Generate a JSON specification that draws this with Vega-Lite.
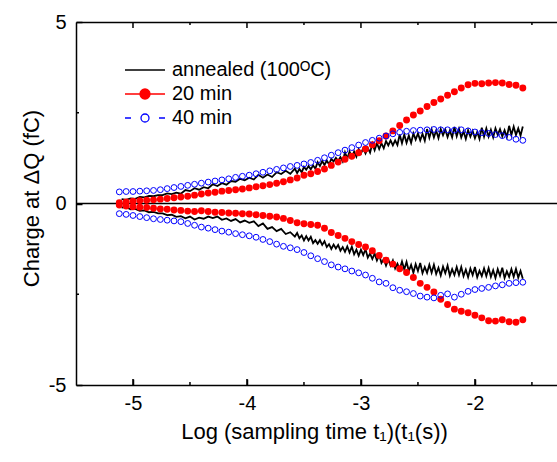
{
"$schema": "https://vega.github.io/schema/vega-lite/v6.json",
"width": 481, "height": 363,
"autosize": {"type": "none"},
"padding": {"left": 76, "top": 22, "right": 0, "bottom": 77},
"background": "white",
"config": {
 "font": "Liberation Sans",
 "view": {"stroke": null},
 "axis": {"grid": false, "ticks": true, "domainColor": "#000000", "tickColor": "#000000", "tickOpacity": 1, "labelColor": "#000000", "titleColor": "#000000", "labelFont": "Liberation Sans", "titleFont": "Liberation Sans", "labelFontSize": 20, "titleFontSize": 22, "titleFontWeight": "normal", "domainWidth": 1.5, "tickWidth": 1.5, "labelOverlap": false, "labelFlush": false}
},
"data": {"values": [
{"s":"annealed","b":"u","x":-5.10,"y":0.12},{"s":"annealed","b":"u","x":-5.06,"y":0.10},{"s":"annealed","b":"u","x":-5.02,"y":0.14},{"s":"annealed","b":"u","x":-4.98,"y":0.13},{"s":"annealed","b":"u","x":-4.94,"y":0.18},{"s":"annealed","b":"u","x":-4.90,"y":0.17},{"s":"annealed","b":"u","x":-4.86,"y":0.21},{"s":"annealed","b":"u","x":-4.82,"y":0.20},{"s":"annealed","b":"u","x":-4.78,"y":0.23},{"s":"annealed","b":"u","x":-4.74,"y":0.23},
{"s":"annealed","b":"u","x":-4.70,"y":0.28},{"s":"annealed","b":"u","x":-4.66,"y":0.26},{"s":"annealed","b":"u","x":-4.62,"y":0.30},{"s":"annealed","b":"u","x":-4.58,"y":0.27},{"s":"annealed","b":"u","x":-4.54,"y":0.37},{"s":"annealed","b":"u","x":-4.50,"y":0.34},{"s":"annealed","b":"u","x":-4.46,"y":0.42},{"s":"annealed","b":"u","x":-4.42,"y":0.38},{"s":"annealed","b":"u","x":-4.38,"y":0.45},{"s":"annealed","b":"u","x":-4.34,"y":0.42},
{"s":"annealed","b":"u","x":-4.30,"y":0.53},{"s":"annealed","b":"u","x":-4.26,"y":0.48},{"s":"annealed","b":"u","x":-4.22,"y":0.56},{"s":"annealed","b":"u","x":-4.18,"y":0.52},{"s":"annealed","b":"u","x":-4.14,"y":0.62},{"s":"annealed","b":"u","x":-4.10,"y":0.60},{"s":"annealed","b":"u","x":-4.06,"y":0.68},{"s":"annealed","b":"u","x":-4.02,"y":0.64},{"s":"annealed","b":"u","x":-3.98,"y":0.71},{"s":"annealed","b":"u","x":-3.94,"y":0.66},
{"s":"annealed","b":"u","x":-3.90,"y":0.79},{"s":"annealed","b":"u","x":-3.86,"y":0.71},{"s":"annealed","b":"u","x":-3.82,"y":0.80},{"s":"annealed","b":"u","x":-3.78,"y":0.73},{"s":"annealed","b":"u","x":-3.74,"y":0.86},{"s":"annealed","b":"u","x":-3.70,"y":0.81},{"s":"annealed","b":"u","x":-3.66,"y":0.90},{"s":"annealed","b":"u","x":-3.62,"y":0.82},
{"s":"annealed","b":"u","x":-3.58,"y":0.96},{"s":"annealed","b":"u","x":-3.56,"y":0.84},{"s":"annealed","b":"u","x":-3.54,"y":0.95},{"s":"annealed","b":"u","x":-3.52,"y":0.86},{"s":"annealed","b":"u","x":-3.50,"y":1.01},{"s":"annealed","b":"u","x":-3.48,"y":0.93},{"s":"annealed","b":"u","x":-3.46,"y":1.03},{"s":"annealed","b":"u","x":-3.44,"y":0.94},{"s":"annealed","b":"u","x":-3.42,"y":1.05},{"s":"annealed","b":"u","x":-3.40,"y":0.96},
{"s":"annealed","b":"u","x":-3.38,"y":1.14},{"s":"annealed","b":"u","x":-3.36,"y":1.03},{"s":"annealed","b":"u","x":-3.34,"y":1.17},{"s":"annealed","b":"u","x":-3.32,"y":1.06},{"s":"annealed","b":"u","x":-3.30,"y":1.18},{"s":"annealed","b":"u","x":-3.28,"y":1.08},{"s":"annealed","b":"u","x":-3.26,"y":1.23},{"s":"annealed","b":"u","x":-3.24,"y":1.16},{"s":"annealed","b":"u","x":-3.22,"y":1.26},{"s":"annealed","b":"u","x":-3.20,"y":1.17},
{"s":"annealed","b":"u","x":-3.18,"y":1.28},{"s":"annealed","b":"u","x":-3.16,"y":1.16},{"s":"annealed","b":"u","x":-3.14,"y":1.41},{"s":"annealed","b":"u","x":-3.12,"y":1.24},{"s":"annealed","b":"u","x":-3.10,"y":1.43},{"s":"annealed","b":"u","x":-3.08,"y":1.27},{"s":"annealed","b":"u","x":-3.06,"y":1.43},{"s":"annealed","b":"u","x":-3.04,"y":1.29},{"s":"annealed","b":"u","x":-3.02,"y":1.50},{"s":"annealed","b":"u","x":-3.00,"y":1.38},
{"s":"annealed","b":"u","x":-2.98,"y":1.52},{"s":"annealed","b":"u","x":-2.96,"y":1.38},{"s":"annealed","b":"u","x":-2.94,"y":1.53},{"s":"annealed","b":"u","x":-2.92,"y":1.40},{"s":"annealed","b":"u","x":-2.90,"y":1.65},{"s":"annealed","b":"u","x":-2.88,"y":1.47},{"s":"annealed","b":"u","x":-2.86,"y":1.66},{"s":"annealed","b":"u","x":-2.84,"y":1.50},{"s":"annealed","b":"u","x":-2.82,"y":1.66},{"s":"annealed","b":"u","x":-2.80,"y":1.52},
{"s":"annealed","b":"u","x":-2.78,"y":1.72},{"s":"annealed","b":"u","x":-2.76,"y":1.60},{"s":"annealed","b":"u","x":-2.74,"y":1.74},{"s":"annealed","b":"u","x":-2.72,"y":1.60},{"s":"annealed","b":"u","x":-2.70,"y":1.74},{"s":"annealed","b":"u","x":-2.68,"y":1.61},{"s":"annealed","b":"u","x":-2.66,"y":1.90},{"s":"annealed","b":"u","x":-2.64,"y":1.66},{"s":"annealed","b":"u","x":-2.62,"y":1.90},{"s":"annealed","b":"u","x":-2.60,"y":1.67},
{"s":"annealed","b":"u","x":-2.58,"y":1.87},{"s":"annealed","b":"u","x":-2.56,"y":1.67},{"s":"annealed","b":"u","x":-2.54,"y":1.93},{"s":"annealed","b":"u","x":-2.52,"y":1.76},{"s":"annealed","b":"u","x":-2.50,"y":1.93},{"s":"annealed","b":"u","x":-2.48,"y":1.74},{"s":"annealed","b":"u","x":-2.46,"y":1.92},{"s":"annealed","b":"u","x":-2.44,"y":1.73},{"s":"annealed","b":"u","x":-2.42,"y":2.05},{"s":"annealed","b":"u","x":-2.40,"y":1.81},
{"s":"annealed","b":"u","x":-2.38,"y":2.04},{"s":"annealed","b":"u","x":-2.36,"y":1.82},{"s":"annealed","b":"u","x":-2.34,"y":2.01},{"s":"annealed","b":"u","x":-2.32,"y":1.80},{"s":"annealed","b":"u","x":-2.30,"y":2.05},{"s":"annealed","b":"u","x":-2.28,"y":1.88},{"s":"annealed","b":"u","x":-2.26,"y":2.04},{"s":"annealed","b":"u","x":-2.24,"y":1.83},{"s":"annealed","b":"u","x":-2.22,"y":2.01},{"s":"annealed","b":"u","x":-2.20,"y":1.82},
{"s":"annealed","b":"u","x":-2.18,"y":2.11},{"s":"annealed","b":"u","x":-2.16,"y":1.85},{"s":"annealed","b":"u","x":-2.14,"y":2.06},{"s":"annealed","b":"u","x":-2.12,"y":1.82},{"s":"annealed","b":"u","x":-2.10,"y":1.99},{"s":"annealed","b":"u","x":-2.08,"y":1.78},{"s":"annealed","b":"u","x":-2.06,"y":2.02},{"s":"annealed","b":"u","x":-2.04,"y":1.84},{"s":"annealed","b":"u","x":-2.02,"y":2.00},{"s":"annealed","b":"u","x":-2.00,"y":1.80},
{"s":"annealed","b":"u","x":-1.98,"y":1.97},{"s":"annealed","b":"u","x":-1.96,"y":1.78},{"s":"annealed","b":"u","x":-1.94,"y":2.09},{"s":"annealed","b":"u","x":-1.92,"y":1.84},{"s":"annealed","b":"u","x":-1.90,"y":2.07},{"s":"annealed","b":"u","x":-1.88,"y":1.84},{"s":"annealed","b":"u","x":-1.86,"y":2.03},{"s":"annealed","b":"u","x":-1.84,"y":1.82},{"s":"annealed","b":"u","x":-1.82,"y":2.07},{"s":"annealed","b":"u","x":-1.80,"y":1.89},
{"s":"annealed","b":"u","x":-1.78,"y":2.05},{"s":"annealed","b":"u","x":-1.76,"y":1.85},{"s":"annealed","b":"u","x":-1.74,"y":2.02},{"s":"annealed","b":"u","x":-1.72,"y":1.83},{"s":"annealed","b":"u","x":-1.70,"y":2.14},{"s":"annealed","b":"u","x":-1.68,"y":1.89},{"s":"annealed","b":"u","x":-1.66,"y":2.12},{"s":"annealed","b":"u","x":-1.64,"y":1.89},{"s":"annealed","b":"u","x":-1.62,"y":2.07},{"s":"annealed","b":"u","x":-1.60,"y":1.87},
{"s":"annealed","b":"u","x":-1.58,"y":2.12},
{"s":"annealed","b":"l","x":-5.10,"y":-0.11},{"s":"annealed","b":"l","x":-5.06,"y":-0.10},{"s":"annealed","b":"l","x":-5.02,"y":-0.16},{"s":"annealed","b":"l","x":-4.98,"y":-0.15},{"s":"annealed","b":"l","x":-4.94,"y":-0.20},{"s":"annealed","b":"l","x":-4.90,"y":-0.19},{"s":"annealed","b":"l","x":-4.86,"y":-0.24},{"s":"annealed","b":"l","x":-4.82,"y":-0.23},{"s":"annealed","b":"l","x":-4.78,"y":-0.27},{"s":"annealed","b":"l","x":-4.74,"y":-0.27},
{"s":"annealed","b":"l","x":-4.70,"y":-0.32},{"s":"annealed","b":"l","x":-4.66,"y":-0.31},{"s":"annealed","b":"l","x":-4.62,"y":-0.37},{"s":"annealed","b":"l","x":-4.58,"y":-0.35},{"s":"annealed","b":"l","x":-4.54,"y":-0.41},{"s":"annealed","b":"l","x":-4.50,"y":-0.36},{"s":"annealed","b":"l","x":-4.46,"y":-0.44},{"s":"annealed","b":"l","x":-4.42,"y":-0.39},{"s":"annealed","b":"l","x":-4.38,"y":-0.42},{"s":"annealed","b":"l","x":-4.34,"y":-0.36},
{"s":"annealed","b":"l","x":-4.30,"y":-0.40},{"s":"annealed","b":"l","x":-4.26,"y":-0.36},{"s":"annealed","b":"l","x":-4.22,"y":-0.45},{"s":"annealed","b":"l","x":-4.18,"y":-0.41},{"s":"annealed","b":"l","x":-4.14,"y":-0.48},{"s":"annealed","b":"l","x":-4.10,"y":-0.43},{"s":"annealed","b":"l","x":-4.06,"y":-0.52},{"s":"annealed","b":"l","x":-4.02,"y":-0.47},{"s":"annealed","b":"l","x":-3.98,"y":-0.53},{"s":"annealed","b":"l","x":-3.94,"y":-0.49},
{"s":"annealed","b":"l","x":-3.90,"y":-0.62},{"s":"annealed","b":"l","x":-3.86,"y":-0.55},{"s":"annealed","b":"l","x":-3.82,"y":-0.70},{"s":"annealed","b":"l","x":-3.78,"y":-0.65},{"s":"annealed","b":"l","x":-3.74,"y":-0.76},{"s":"annealed","b":"l","x":-3.70,"y":-0.70},{"s":"annealed","b":"l","x":-3.66,"y":-0.84},{"s":"annealed","b":"l","x":-3.62,"y":-0.79},
{"s":"annealed","b":"l","x":-3.58,"y":-0.91},{"s":"annealed","b":"l","x":-3.56,"y":-0.81},{"s":"annealed","b":"l","x":-3.54,"y":-0.96},{"s":"annealed","b":"l","x":-3.52,"y":-0.88},{"s":"annealed","b":"l","x":-3.50,"y":-1.02},{"s":"annealed","b":"l","x":-3.48,"y":-0.90},{"s":"annealed","b":"l","x":-3.46,"y":-1.02},{"s":"annealed","b":"l","x":-3.44,"y":-0.92},{"s":"annealed","b":"l","x":-3.42,"y":-1.09},{"s":"annealed","b":"l","x":-3.40,"y":-1.01},
{"s":"annealed","b":"l","x":-3.38,"y":-1.11},{"s":"annealed","b":"l","x":-3.36,"y":-1.01},{"s":"annealed","b":"l","x":-3.34,"y":-1.14},{"s":"annealed","b":"l","x":-3.32,"y":-1.04},{"s":"annealed","b":"l","x":-3.30,"y":-1.20},{"s":"annealed","b":"l","x":-3.28,"y":-1.12},{"s":"annealed","b":"l","x":-3.26,"y":-1.25},{"s":"annealed","b":"l","x":-3.24,"y":-1.13},{"s":"annealed","b":"l","x":-3.22,"y":-1.24},{"s":"annealed","b":"l","x":-3.20,"y":-1.14},
{"s":"annealed","b":"l","x":-3.18,"y":-1.30},{"s":"annealed","b":"l","x":-3.16,"y":-1.20},{"s":"annealed","b":"l","x":-3.14,"y":-1.33},{"s":"annealed","b":"l","x":-3.12,"y":-1.18},{"s":"annealed","b":"l","x":-3.10,"y":-1.35},{"s":"annealed","b":"l","x":-3.08,"y":-1.19},{"s":"annealed","b":"l","x":-3.06,"y":-1.40},{"s":"annealed","b":"l","x":-3.04,"y":-1.27},{"s":"annealed","b":"l","x":-3.02,"y":-1.44},{"s":"annealed","b":"l","x":-3.00,"y":-1.27},
{"s":"annealed","b":"l","x":-2.98,"y":-1.42},{"s":"annealed","b":"l","x":-2.96,"y":-1.26},{"s":"annealed","b":"l","x":-2.94,"y":-1.49},{"s":"annealed","b":"l","x":-2.92,"y":-1.38},{"s":"annealed","b":"l","x":-2.90,"y":-1.53},{"s":"annealed","b":"l","x":-2.88,"y":-1.38},{"s":"annealed","b":"l","x":-2.86,"y":-1.57},{"s":"annealed","b":"l","x":-2.84,"y":-1.42},{"s":"annealed","b":"l","x":-2.82,"y":-1.64},{"s":"annealed","b":"l","x":-2.80,"y":-1.53},
{"s":"annealed","b":"l","x":-2.78,"y":-1.71},{"s":"annealed","b":"l","x":-2.76,"y":-1.55},{"s":"annealed","b":"l","x":-2.74,"y":-1.71},{"s":"annealed","b":"l","x":-2.72,"y":-1.57},{"s":"annealed","b":"l","x":-2.70,"y":-1.79},{"s":"annealed","b":"l","x":-2.68,"y":-1.66},{"s":"annealed","b":"l","x":-2.66,"y":-1.81},{"s":"annealed","b":"l","x":-2.64,"y":-1.60},{"s":"annealed","b":"l","x":-2.62,"y":-1.82},{"s":"annealed","b":"l","x":-2.60,"y":-1.61},
{"s":"annealed","b":"l","x":-2.58,"y":-1.86},{"s":"annealed","b":"l","x":-2.56,"y":-1.69},{"s":"annealed","b":"l","x":-2.54,"y":-1.91},{"s":"annealed","b":"l","x":-2.52,"y":-1.67},{"s":"annealed","b":"l","x":-2.50,"y":-1.86},{"s":"annealed","b":"l","x":-2.48,"y":-1.64},{"s":"annealed","b":"l","x":-2.46,"y":-1.92},{"s":"annealed","b":"l","x":-2.44,"y":-1.75},{"s":"annealed","b":"l","x":-2.42,"y":-1.91},{"s":"annealed","b":"l","x":-2.40,"y":-1.69},
{"s":"annealed","b":"l","x":-2.38,"y":-1.91},{"s":"annealed","b":"l","x":-2.36,"y":-1.69},{"s":"annealed","b":"l","x":-2.34,"y":-1.94},{"s":"annealed","b":"l","x":-2.32,"y":-1.77},{"s":"annealed","b":"l","x":-2.30,"y":-1.98},{"s":"annealed","b":"l","x":-2.28,"y":-1.74},{"s":"annealed","b":"l","x":-2.26,"y":-1.92},{"s":"annealed","b":"l","x":-2.24,"y":-1.71},{"s":"annealed","b":"l","x":-2.22,"y":-1.99},{"s":"annealed","b":"l","x":-2.20,"y":-1.81},
{"s":"annealed","b":"l","x":-2.18,"y":-1.97},{"s":"annealed","b":"l","x":-2.16,"y":-1.75},{"s":"annealed","b":"l","x":-2.14,"y":-1.97},{"s":"annealed","b":"l","x":-2.12,"y":-1.75},{"s":"annealed","b":"l","x":-2.10,"y":-2.00},{"s":"annealed","b":"l","x":-2.08,"y":-1.82},{"s":"annealed","b":"l","x":-2.06,"y":-2.03},{"s":"annealed","b":"l","x":-2.04,"y":-1.79},{"s":"annealed","b":"l","x":-2.02,"y":-1.97},{"s":"annealed","b":"l","x":-2.00,"y":-1.75},
{"s":"annealed","b":"l","x":-1.98,"y":-2.03},{"s":"annealed","b":"l","x":-1.96,"y":-1.85},{"s":"annealed","b":"l","x":-1.94,"y":-2.00},{"s":"annealed","b":"l","x":-1.92,"y":-1.79},{"s":"annealed","b":"l","x":-1.90,"y":-2.00},{"s":"annealed","b":"l","x":-1.88,"y":-1.78},{"s":"annealed","b":"l","x":-1.86,"y":-2.02},{"s":"annealed","b":"l","x":-1.84,"y":-1.84},{"s":"annealed","b":"l","x":-1.82,"y":-2.05},{"s":"annealed","b":"l","x":-1.80,"y":-1.81},
{"s":"annealed","b":"l","x":-1.78,"y":-1.99},{"s":"annealed","b":"l","x":-1.76,"y":-1.77},{"s":"annealed","b":"l","x":-1.74,"y":-2.05},{"s":"annealed","b":"l","x":-1.72,"y":-1.87},{"s":"annealed","b":"l","x":-1.70,"y":-2.02},{"s":"annealed","b":"l","x":-1.68,"y":-1.81},{"s":"annealed","b":"l","x":-1.66,"y":-2.02},{"s":"annealed","b":"l","x":-1.64,"y":-1.80},{"s":"annealed","b":"l","x":-1.62,"y":-2.04},{"s":"annealed","b":"l","x":-1.60,"y":-1.86},
{"s":"annealed","b":"l","x":-1.58,"y":-2.07},
{"s":"20 min","b":"u","x":-5.12,"y":0.02},{"s":"20 min","b":"u","x":-5.06,"y":0.04},{"s":"20 min","b":"u","x":-5.00,"y":0.06},{"s":"20 min","b":"u","x":-4.94,"y":0.08},{"s":"20 min","b":"u","x":-4.88,"y":0.09},{"s":"20 min","b":"u","x":-4.82,"y":0.10},{"s":"20 min","b":"u","x":-4.76,"y":0.12},{"s":"20 min","b":"u","x":-4.70,"y":0.14},{"s":"20 min","b":"u","x":-4.64,"y":0.16},{"s":"20 min","b":"u","x":-4.58,"y":0.18},
{"s":"20 min","b":"u","x":-4.52,"y":0.20},{"s":"20 min","b":"u","x":-4.46,"y":0.23},{"s":"20 min","b":"u","x":-4.40,"y":0.26},{"s":"20 min","b":"u","x":-4.34,"y":0.29},{"s":"20 min","b":"u","x":-4.28,"y":0.31},{"s":"20 min","b":"u","x":-4.22,"y":0.34},{"s":"20 min","b":"u","x":-4.16,"y":0.36},{"s":"20 min","b":"u","x":-4.10,"y":0.38},{"s":"20 min","b":"u","x":-4.04,"y":0.40},{"s":"20 min","b":"u","x":-3.98,"y":0.43},
{"s":"20 min","b":"u","x":-3.92,"y":0.46},{"s":"20 min","b":"u","x":-3.86,"y":0.49},{"s":"20 min","b":"u","x":-3.80,"y":0.52},{"s":"20 min","b":"u","x":-3.74,"y":0.56},{"s":"20 min","b":"u","x":-3.68,"y":0.60},{"s":"20 min","b":"u","x":-3.62,"y":0.65},{"s":"20 min","b":"u","x":-3.56,"y":0.70},{"s":"20 min","b":"u","x":-3.50,"y":0.78},{"s":"20 min","b":"u","x":-3.44,"y":0.82},{"s":"20 min","b":"u","x":-3.38,"y":0.88},
{"s":"20 min","b":"u","x":-3.32,"y":0.95},{"s":"20 min","b":"u","x":-3.26,"y":1.05},{"s":"20 min","b":"u","x":-3.20,"y":1.14},{"s":"20 min","b":"u","x":-3.14,"y":1.22},{"s":"20 min","b":"u","x":-3.08,"y":1.30},{"s":"20 min","b":"u","x":-3.02,"y":1.40},{"s":"20 min","b":"u","x":-2.96,"y":1.50},{"s":"20 min","b":"u","x":-2.90,"y":1.62},{"s":"20 min","b":"u","x":-2.84,"y":1.73},{"s":"20 min","b":"u","x":-2.78,"y":1.86},
{"s":"20 min","b":"u","x":-2.72,"y":2.00},{"s":"20 min","b":"u","x":-2.66,"y":2.15},{"s":"20 min","b":"u","x":-2.60,"y":2.30},{"s":"20 min","b":"u","x":-2.54,"y":2.44},{"s":"20 min","b":"u","x":-2.48,"y":2.55},{"s":"20 min","b":"u","x":-2.42,"y":2.67},{"s":"20 min","b":"u","x":-2.36,"y":2.78},{"s":"20 min","b":"u","x":-2.30,"y":2.88},{"s":"20 min","b":"u","x":-2.24,"y":2.98},{"s":"20 min","b":"u","x":-2.18,"y":3.08},
{"s":"20 min","b":"u","x":-2.12,"y":3.18},{"s":"20 min","b":"u","x":-2.06,"y":3.27},{"s":"20 min","b":"u","x":-2.00,"y":3.31},{"s":"20 min","b":"u","x":-1.94,"y":3.30},{"s":"20 min","b":"u","x":-1.88,"y":3.32},{"s":"20 min","b":"u","x":-1.82,"y":3.33},{"s":"20 min","b":"u","x":-1.76,"y":3.32},{"s":"20 min","b":"u","x":-1.70,"y":3.28},{"s":"20 min","b":"u","x":-1.64,"y":3.26},{"s":"20 min","b":"u","x":-1.58,"y":3.18},
{"s":"20 min","b":"l","x":-5.12,"y":-0.04},{"s":"20 min","b":"l","x":-5.06,"y":-0.07},{"s":"20 min","b":"l","x":-5.00,"y":-0.09},{"s":"20 min","b":"l","x":-4.94,"y":-0.10},{"s":"20 min","b":"l","x":-4.88,"y":-0.11},{"s":"20 min","b":"l","x":-4.82,"y":-0.13},{"s":"20 min","b":"l","x":-4.76,"y":-0.15},{"s":"20 min","b":"l","x":-4.70,"y":-0.16},{"s":"20 min","b":"l","x":-4.64,"y":-0.18},{"s":"20 min","b":"l","x":-4.58,"y":-0.19},
{"s":"20 min","b":"l","x":-4.52,"y":-0.21},{"s":"20 min","b":"l","x":-4.46,"y":-0.22},{"s":"20 min","b":"l","x":-4.40,"y":-0.20},{"s":"20 min","b":"l","x":-4.34,"y":-0.22},{"s":"20 min","b":"l","x":-4.28,"y":-0.24},{"s":"20 min","b":"l","x":-4.22,"y":-0.25},{"s":"20 min","b":"l","x":-4.16,"y":-0.26},{"s":"20 min","b":"l","x":-4.10,"y":-0.27},{"s":"20 min","b":"l","x":-4.04,"y":-0.28},{"s":"20 min","b":"l","x":-3.98,"y":-0.29},
{"s":"20 min","b":"l","x":-3.92,"y":-0.31},{"s":"20 min","b":"l","x":-3.86,"y":-0.33},{"s":"20 min","b":"l","x":-3.80,"y":-0.35},{"s":"20 min","b":"l","x":-3.74,"y":-0.37},{"s":"20 min","b":"l","x":-3.68,"y":-0.41},{"s":"20 min","b":"l","x":-3.62,"y":-0.47},{"s":"20 min","b":"l","x":-3.56,"y":-0.53},{"s":"20 min","b":"l","x":-3.50,"y":-0.56},{"s":"20 min","b":"l","x":-3.44,"y":-0.58},{"s":"20 min","b":"l","x":-3.38,"y":-0.60},
{"s":"20 min","b":"l","x":-3.32,"y":-0.68},{"s":"20 min","b":"l","x":-3.26,"y":-0.80},{"s":"20 min","b":"l","x":-3.20,"y":-0.88},{"s":"20 min","b":"l","x":-3.14,"y":-0.96},{"s":"20 min","b":"l","x":-3.08,"y":-1.05},{"s":"20 min","b":"l","x":-3.02,"y":-1.13},{"s":"20 min","b":"l","x":-2.96,"y":-1.20},{"s":"20 min","b":"l","x":-2.90,"y":-1.30},{"s":"20 min","b":"l","x":-2.84,"y":-1.43},{"s":"20 min","b":"l","x":-2.78,"y":-1.56},
{"s":"20 min","b":"l","x":-2.72,"y":-1.67},{"s":"20 min","b":"l","x":-2.66,"y":-1.80},{"s":"20 min","b":"l","x":-2.60,"y":-1.90},{"s":"20 min","b":"l","x":-2.54,"y":-2.04},{"s":"20 min","b":"l","x":-2.48,"y":-2.20},{"s":"20 min","b":"l","x":-2.42,"y":-2.31},{"s":"20 min","b":"l","x":-2.36,"y":-2.44},{"s":"20 min","b":"l","x":-2.30,"y":-2.64},{"s":"20 min","b":"l","x":-2.24,"y":-2.78},{"s":"20 min","b":"l","x":-2.18,"y":-2.91},
{"s":"20 min","b":"l","x":-2.12,"y":-2.97},{"s":"20 min","b":"l","x":-2.06,"y":-3.01},{"s":"20 min","b":"l","x":-2.00,"y":-3.08},{"s":"20 min","b":"l","x":-1.94,"y":-3.15},{"s":"20 min","b":"l","x":-1.88,"y":-3.23},{"s":"20 min","b":"l","x":-1.82,"y":-3.24},{"s":"20 min","b":"l","x":-1.76,"y":-3.20},{"s":"20 min","b":"l","x":-1.70,"y":-3.26},{"s":"20 min","b":"l","x":-1.64,"y":-3.27},{"s":"20 min","b":"l","x":-1.58,"y":-3.20},
{"s":"40 min","b":"u","x":-5.12,"y":0.32},{"s":"40 min","b":"u","x":-5.06,"y":0.33},{"s":"40 min","b":"u","x":-5.00,"y":0.33},{"s":"40 min","b":"u","x":-4.94,"y":0.34},{"s":"40 min","b":"u","x":-4.88,"y":0.35},{"s":"40 min","b":"u","x":-4.82,"y":0.36},{"s":"40 min","b":"u","x":-4.76,"y":0.38},{"s":"40 min","b":"u","x":-4.70,"y":0.41},{"s":"40 min","b":"u","x":-4.64,"y":0.44},{"s":"40 min","b":"u","x":-4.58,"y":0.47},
{"s":"40 min","b":"u","x":-4.52,"y":0.50},{"s":"40 min","b":"u","x":-4.46,"y":0.53},{"s":"40 min","b":"u","x":-4.40,"y":0.56},{"s":"40 min","b":"u","x":-4.34,"y":0.59},{"s":"40 min","b":"u","x":-4.28,"y":0.62},{"s":"40 min","b":"u","x":-4.22,"y":0.65},{"s":"40 min","b":"u","x":-4.16,"y":0.68},{"s":"40 min","b":"u","x":-4.10,"y":0.72},{"s":"40 min","b":"u","x":-4.04,"y":0.75},{"s":"40 min","b":"u","x":-3.98,"y":0.78},
{"s":"40 min","b":"u","x":-3.92,"y":0.82},{"s":"40 min","b":"u","x":-3.86,"y":0.86},{"s":"40 min","b":"u","x":-3.80,"y":0.90},{"s":"40 min","b":"u","x":-3.74,"y":0.94},{"s":"40 min","b":"u","x":-3.68,"y":0.98},{"s":"40 min","b":"u","x":-3.62,"y":1.02},{"s":"40 min","b":"u","x":-3.56,"y":1.05},{"s":"40 min","b":"u","x":-3.50,"y":1.09},{"s":"40 min","b":"u","x":-3.44,"y":1.13},{"s":"40 min","b":"u","x":-3.38,"y":1.19},
{"s":"40 min","b":"u","x":-3.32,"y":1.26},{"s":"40 min","b":"u","x":-3.26,"y":1.33},{"s":"40 min","b":"u","x":-3.20,"y":1.40},{"s":"40 min","b":"u","x":-3.14,"y":1.47},{"s":"40 min","b":"u","x":-3.08,"y":1.54},{"s":"40 min","b":"u","x":-3.02,"y":1.61},{"s":"40 min","b":"u","x":-2.96,"y":1.68},{"s":"40 min","b":"u","x":-2.90,"y":1.74},{"s":"40 min","b":"u","x":-2.84,"y":1.80},{"s":"40 min","b":"u","x":-2.78,"y":1.86},
{"s":"40 min","b":"u","x":-2.72,"y":1.92},{"s":"40 min","b":"u","x":-2.66,"y":1.96},{"s":"40 min","b":"u","x":-2.60,"y":1.99},{"s":"40 min","b":"u","x":-2.54,"y":2.01},{"s":"40 min","b":"u","x":-2.48,"y":2.02},{"s":"40 min","b":"u","x":-2.42,"y":2.03},{"s":"40 min","b":"u","x":-2.36,"y":2.04},{"s":"40 min","b":"u","x":-2.30,"y":2.03},{"s":"40 min","b":"u","x":-2.24,"y":2.03},{"s":"40 min","b":"u","x":-2.18,"y":2.02},
{"s":"40 min","b":"u","x":-2.12,"y":2.03},{"s":"40 min","b":"u","x":-2.06,"y":2.00},{"s":"40 min","b":"u","x":-2.00,"y":1.97},{"s":"40 min","b":"u","x":-1.94,"y":1.95},{"s":"40 min","b":"u","x":-1.88,"y":1.93},{"s":"40 min","b":"u","x":-1.82,"y":1.90},{"s":"40 min","b":"u","x":-1.76,"y":1.87},{"s":"40 min","b":"u","x":-1.70,"y":1.82},{"s":"40 min","b":"u","x":-1.64,"y":1.77},{"s":"40 min","b":"u","x":-1.58,"y":1.74},
{"s":"40 min","b":"l","x":-5.12,"y":-0.28},{"s":"40 min","b":"l","x":-5.06,"y":-0.30},{"s":"40 min","b":"l","x":-5.00,"y":-0.33},{"s":"40 min","b":"l","x":-4.94,"y":-0.36},{"s":"40 min","b":"l","x":-4.88,"y":-0.39},{"s":"40 min","b":"l","x":-4.82,"y":-0.42},{"s":"40 min","b":"l","x":-4.76,"y":-0.44},{"s":"40 min","b":"l","x":-4.70,"y":-0.46},{"s":"40 min","b":"l","x":-4.64,"y":-0.48},{"s":"40 min","b":"l","x":-4.58,"y":-0.50},
{"s":"40 min","b":"l","x":-4.52,"y":-0.55},{"s":"40 min","b":"l","x":-4.46,"y":-0.60},{"s":"40 min","b":"l","x":-4.40,"y":-0.65},{"s":"40 min","b":"l","x":-4.34,"y":-0.68},{"s":"40 min","b":"l","x":-4.28,"y":-0.72},{"s":"40 min","b":"l","x":-4.22,"y":-0.76},{"s":"40 min","b":"l","x":-4.16,"y":-0.79},{"s":"40 min","b":"l","x":-4.10,"y":-0.83},{"s":"40 min","b":"l","x":-4.04,"y":-0.86},{"s":"40 min","b":"l","x":-3.98,"y":-0.89},
{"s":"40 min","b":"l","x":-3.92,"y":-0.93},{"s":"40 min","b":"l","x":-3.86,"y":-0.99},{"s":"40 min","b":"l","x":-3.80,"y":-1.05},{"s":"40 min","b":"l","x":-3.74,"y":-1.12},{"s":"40 min","b":"l","x":-3.68,"y":-1.18},{"s":"40 min","b":"l","x":-3.62,"y":-1.22},{"s":"40 min","b":"l","x":-3.56,"y":-1.27},{"s":"40 min","b":"l","x":-3.50,"y":-1.35},{"s":"40 min","b":"l","x":-3.44,"y":-1.44},{"s":"40 min","b":"l","x":-3.38,"y":-1.52},
{"s":"40 min","b":"l","x":-3.32,"y":-1.60},{"s":"40 min","b":"l","x":-3.26,"y":-1.69},{"s":"40 min","b":"l","x":-3.20,"y":-1.75},{"s":"40 min","b":"l","x":-3.14,"y":-1.80},{"s":"40 min","b":"l","x":-3.08,"y":-1.86},{"s":"40 min","b":"l","x":-3.02,"y":-1.91},{"s":"40 min","b":"l","x":-2.96,"y":-1.97},{"s":"40 min","b":"l","x":-2.90,"y":-2.06},{"s":"40 min","b":"l","x":-2.84,"y":-2.16},{"s":"40 min","b":"l","x":-2.78,"y":-2.20},
{"s":"40 min","b":"l","x":-2.72,"y":-2.32},{"s":"40 min","b":"l","x":-2.66,"y":-2.39},{"s":"40 min","b":"l","x":-2.60,"y":-2.43},{"s":"40 min","b":"l","x":-2.54,"y":-2.48},{"s":"40 min","b":"l","x":-2.48,"y":-2.55},{"s":"40 min","b":"l","x":-2.42,"y":-2.58},{"s":"40 min","b":"l","x":-2.36,"y":-2.60},{"s":"40 min","b":"l","x":-2.30,"y":-2.53},{"s":"40 min","b":"l","x":-2.24,"y":-2.49},{"s":"40 min","b":"l","x":-2.18,"y":-2.58},
{"s":"40 min","b":"l","x":-2.12,"y":-2.50},{"s":"40 min","b":"l","x":-2.06,"y":-2.42},{"s":"40 min","b":"l","x":-2.00,"y":-2.37},{"s":"40 min","b":"l","x":-1.94,"y":-2.34},{"s":"40 min","b":"l","x":-1.88,"y":-2.31},{"s":"40 min","b":"l","x":-1.82,"y":-2.27},{"s":"40 min","b":"l","x":-1.76,"y":-2.24},{"s":"40 min","b":"l","x":-1.70,"y":-2.20},{"s":"40 min","b":"l","x":-1.64,"y":-2.18},{"s":"40 min","b":"l","x":-1.58,"y":-2.17}
]},
"resolve": {"axis": {"x": "independent", "y": "independent"}},
"layer": [
 {
  "data": {"values": [{"z": 0}]},
  "mark": {"type": "rule", "color": "#000", "strokeWidth": 1.6},
  "encoding": {"y": {"field": "z", "type": "quantitative", "scale": {"domain": [-5, 5], "nice": false, "zero": false},
   "axis": {"orient": "left", "values": [-5, 0, 5], "ticks": false, "labels": false, "domain": true, "title": null}}}
 },
 {
  "transform": [{"filter": "datum.s === 'annealed'"}],
  "mark": {"type": "line", "color": "#000", "strokeWidth": 1.8},
  "encoding": {
   "x": {"field": "x", "type": "quantitative", "scale": {"domain": [-5.5, -1.28], "nice": false, "zero": false},
    "axis": {"orient": "bottom", "values": [-5, -4, -3, -2], "offset": -6, "ticks": true, "tickSize": 6, "domain": false, "labelExpr": "'' + datum.value", "labelPadding": 8, "title": "Log (sampling time t₁)(t₁(s))", "titleX": 238, "titleY": 59, "titleBaseline": "alphabetic", "titleAlign": "center", "titleAnchor": null}},
   "y": {"field": "y", "type": "quantitative", "scale": {"domain": [-5, 5], "nice": false, "zero": false},
    "axis": {"orient": "left", "values": [-5, 0, 5], "offset": -6, "ticks": true, "tickSize": 6, "domain": false, "labelExpr": "'' + datum.value", "labelPadding": 10, "title": "Charge at ΔQ (fC)", "titleX": -44, "titleY": 176, "titleAngle": -90, "titleBaseline": "alphabetic", "titleAlign": "center", "titleAnchor": null}},
   "detail": {"field": "b"}
  }
 },
 {
  "transform": [{"filter": "datum.s === '20 min'"}],
  "mark": {"type": "point", "shape": "circle", "size": 48, "filled": true, "color": "#ff0000", "opacity": 1},
  "encoding": {
   "x": {"field": "x", "type": "quantitative", "scale": {"domain": [-5.5, -1.28], "nice": false, "zero": false}, "axis": null},
   "y": {"field": "y", "type": "quantitative", "scale": {"domain": [-5, 5], "nice": false, "zero": false}, "axis": null},
   "detail": {"field": "b"}
  }
 },
 {
  "transform": [{"filter": "datum.s === '40 min'"}],
  "mark": {"type": "point", "shape": "circle", "size": 34, "filled": false, "color": "#0000ff", "strokeWidth": 1, "opacity": 1},
  "encoding": {
   "x": {"field": "x", "type": "quantitative", "scale": {"domain": [-5.5, -1.28], "nice": false, "zero": false}, "axis": null},
   "y": {"field": "y", "type": "quantitative", "scale": {"domain": [-5, 5], "nice": false, "zero": false}, "axis": null},
   "detail": {"field": "b"}
  }
 },
 {
  "data": {"values": [{"t": -5, "e": -5}, {"t": -4, "e": -5}, {"t": -3, "e": -5}, {"t": -2, "e": -5}, {"t": -5, "e": 5}, {"t": -4, "e": 5}, {"t": -3, "e": 5}, {"t": -2, "e": 5}]},
  "mark": {"type": "tick", "orient": "vertical", "size": 12, "thickness": 1.5, "color": "#000000", "opacity": 1, "clip": true},
  "encoding": {
   "x": {"field": "t", "type": "quantitative", "scale": {"domain": [-5.5, -1.28], "nice": false, "zero": false}, "axis": null},
   "y": {"field": "e", "type": "quantitative", "scale": {"domain": [-5, 5], "nice": false, "zero": false}, "axis": null}
  }
 },
 {
  "data": {"values": [{"t": -4.5, "e": -5}, {"t": -3.5, "e": -5}, {"t": -2.5, "e": -5}, {"t": -1.5, "e": -5}, {"t": -4.5, "e": 5}, {"t": -3.5, "e": 5}, {"t": -2.5, "e": 5}, {"t": -1.5, "e": 5}]},
  "mark": {"type": "tick", "orient": "vertical", "size": 6, "thickness": 1.5, "color": "#000000", "opacity": 1, "clip": true},
  "encoding": {
   "x": {"field": "t", "type": "quantitative", "scale": {"domain": [-5.5, -1.28], "nice": false, "zero": false}, "axis": null},
   "y": {"field": "e", "type": "quantitative", "scale": {"domain": [-5, 5], "nice": false, "zero": false}, "axis": null}
  }
 },
 {
  "data": {"values": [{"t": -2.5, "e": -5.5}, {"t": 2.5, "e": -5.5}]},
  "mark": {"type": "tick", "orient": "horizontal", "size": 6, "thickness": 1.5, "color": "#000000", "opacity": 1, "clip": true},
  "encoding": {
   "x": {"field": "e", "type": "quantitative", "scale": {"domain": [-5.5, -1.28], "nice": false, "zero": false}, "axis": null},
   "y": {"field": "t", "type": "quantitative", "scale": {"domain": [-5, 5], "nice": false, "zero": false}, "axis": null}
  }
 },
 {
  "transform": [{"filter": "false"}],
  "mark": {"type": "point", "size": 400, "strokeWidth": 1.3, "opacity": 1},
  "encoding": {
   "x": {"field": "x", "type": "quantitative", "scale": {"domain": [-5.5, -1.28], "nice": false, "zero": false}, "axis": null},
   "y": {"field": "y", "type": "quantitative", "scale": {"domain": [-5, 5], "nice": false, "zero": false}, "axis": null},
   "shape": {"field": "s", "type": "nominal", "scale": {"domain": ["annealed", "20 min", "40 min"], "range": ["M-2,0L2,0", "M-2,0L2,0M-0.5,0A0.5,0.5,0,1,0,0.5,0A0.5,0.5,0,1,0,-0.5,0Z", "M-2,0L-1.4,0M1.4,0L2,0M-0.4,0A0.4,0.4,0,1,0,0.4,0A0.4,0.4,0,1,0,-0.4,0Z"]},
    "legend": {"title": null, "orient": "none", "legendX": 58, "legendY": 37, "labelFontSize": 20, "labelFont": "Liberation Sans", "labelColor": "#000", "symbolSize": 400, "symbolStrokeWidth": 1.3, "rowPadding": 3, "labelOffset": 16, "padding": 0, "labelExpr": "datum.value === 'annealed' ? 'annealed (100ᴼC)' : datum.label"}},
   "fill": {"field": "s", "type": "nominal", "scale": {"domain": ["annealed", "20 min", "40 min"], "range": ["transparent", "#ff0000", "transparent"]},
    "legend": {"title": null, "orient": "none", "legendX": 58, "legendY": 37, "labelFontSize": 20, "labelFont": "Liberation Sans", "labelColor": "#000", "symbolSize": 400, "symbolStrokeWidth": 1.3, "rowPadding": 3, "labelOffset": 16, "padding": 0, "labelExpr": "datum.value === 'annealed' ? 'annealed (100ᴼC)' : datum.label"}},
   "stroke": {"field": "s", "type": "nominal", "scale": {"domain": ["annealed", "20 min", "40 min"], "range": ["#000000", "#ff0000", "#0000ff"]},
    "legend": {"title": null, "orient": "none", "legendX": 58, "legendY": 37, "labelFontSize": 20, "labelFont": "Liberation Sans", "labelColor": "#000", "symbolSize": 400, "symbolStrokeWidth": 1.3, "rowPadding": 3, "labelOffset": 16, "padding": 0, "labelExpr": "datum.value === 'annealed' ? 'annealed (100ᴼC)' : datum.label"}}
  }
 },
 {
  "transform": [{"filter": "false"}],
  "mark": {"type": "point"},
  "encoding": {
   "x": {"field": "x", "type": "quantitative", "scale": {"domain": [-5.5, -1.28], "nice": false, "zero": false},
    "axis": {"orient": "bottom", "ticks": false, "labels": false, "domain": true, "title": null}},
   "y": {"field": "y", "type": "quantitative", "scale": {"domain": [-5, 5], "nice": false, "zero": false}, "axis": null}
  }
 },
 {
  "transform": [{"filter": "false"}],
  "mark": {"type": "point"},
  "encoding": {
   "x": {"field": "x", "type": "quantitative", "scale": {"domain": [-5.5, -1.28], "nice": false, "zero": false},
    "axis": {"orient": "top", "ticks": false, "labels": false, "domain": true, "title": null}},
   "y": {"field": "y", "type": "quantitative", "scale": {"domain": [-5, 5], "nice": false, "zero": false}, "axis": null}
  }
 }
]
}
